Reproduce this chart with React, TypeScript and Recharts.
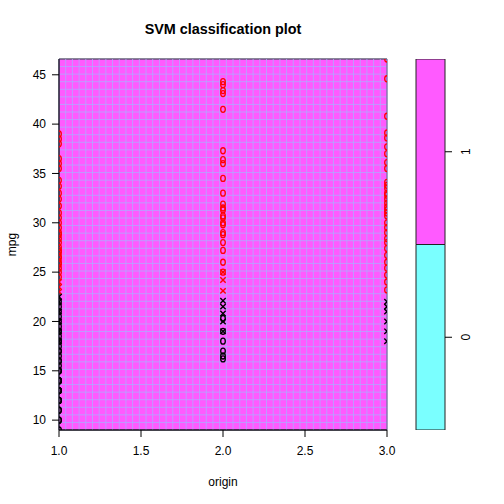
import { ScatterChart, Scatter, XAxis, YAxis, CartesianGrid, ReferenceArea, ReferenceLine, BarChart, Bar } from "recharts";

const FONT = "'Liberation Sans', Arial, Helvetica, sans-serif";
const MAGENTA = "#FF5AFF";
const CYAN = "#7AFFFF";
const GRID_LINE = "#B0A8FF";

const xTicks = [1.0, 1.5, 2.0, 2.5, 3.0];
const yTicks = [10, 15, 20, 25, 30, 35, 40, 45];
const xRange = [1, 3];
const yRange = [9, 46.6];

// origin = 1
const redO1 = [39.0, 38.5, 38.0, 36.5, 36.0, 35.5, 34.3, 33.7, 33.0, 32.4, 31.7, 31.0, 30.5, 30.0, 29.5, 29.0, 28.8, 28.4, 28.0, 27.5, 27.2, 27.0, 26.6, 26.4, 26.0, 25.8, 25.4, 25.0, 24.5];
const redX1 = [24.0, 23.5, 23.0];
const blackO1 = [9, 10, 10, 11, 11, 12, 12, 12, 13, 13, 13, 13, 14, 14, 14, 14, 15, 15, 15, 15.5, 16, 16, 16.5, 17, 17, 17.5, 18, 18, 18.5, 19, 19, 19.5, 20, 20.5, 21, 21.5, 22];
const blackX1 = [22.5, 22.0, 21.0, 20.0, 19.0, 18.0];

// origin = 2
const redO2 = [44.3, 44.0, 43.4, 43.1, 41.5, 37.3, 36.4, 36.0, 34.5, 33.0, 31.9, 31.5, 31.3, 30.7, 30.5, 30.0, 29.8, 29.0, 28.8, 28.0, 27.2, 26.0, 25.0];
const redX2 = [25.0, 24.2, 23.1];
const blackO2 = [20.3, 19.0, 18.0, 17.0, 16.5, 16.2];
const blackX2 = [22.1, 21.5, 20.8, 20.0, 19.0];

// origin = 3
const redO3 = [46.6, 44.6, 40.8, 39.1, 38.6, 37.7, 37.0, 36.1, 35.5, 34.1, 33.8, 33.5, 33.0, 32.8, 32.4, 32.0, 31.6, 31.3, 31.0, 30.7, 30.0, 29.5, 29.0, 28.4, 28.0, 27.4, 26.7, 26.0, 25.4, 24.7, 24.0, 23.2];
const blackX3 = [22.0, 21.5, 21.0, 20.0, 19.0, 18.0];

const keyLabels = ["0", "1"];
const keyData = [{ k: "key", zero: 1, one: 1 }];

// prediction grid of plot.svm (50 x 50)
const GRID_N = 50;
const gridX = Array.from({ length: GRID_N }, (_, i) => xRange[0] + ((xRange[1] - xRange[0]) * i) / (GRID_N - 1));
const gridY = Array.from({ length: GRID_N }, (_, i) => yRange[0] + ((yRange[1] - yRange[0]) * i) / (GRID_N - 1));

const pts = (origin: number, arr: number[]) => arr.map((mpg) => ({ origin, mpg }));

const redO = [...pts(1, redO1), ...pts(2, redO2), ...pts(3, redO3)];
const blackO = [...pts(1, blackO1), ...pts(2, blackO2)];
const redX = [...pts(1, redX1), ...pts(2, redX2)];
const blackX = [...pts(1, blackX1), ...pts(2, blackX2), ...pts(3, blackX3)];

const oMark = (color: string) => (p: any) => (
  <ellipse cx={p.cx} cy={p.cy} rx={2.3} ry={3.0} fill="none" stroke={color} strokeWidth={1.3} />
);

const xMark = (color: string) => (p: any) => {
  const d = 2.7;
  return (
    <path
      d={`M${p.cx - d},${p.cy - d}L${p.cx + d},${p.cy + d}M${p.cx - d},${p.cy + d}L${p.cx + d},${p.cy - d}`}
      stroke={color}
      strokeWidth={1.4}
      fill="none"
    />
  );
};

const KeyTick = (p: any) => (
  <text
    x={p.x}
    y={p.y}
    transform={`rotate(-90 ${p.x} ${p.y})`}
    textAnchor="middle"
    dominantBaseline="central"
    fontSize={12}
    fontFamily={FONT}
    fill="#000"
  >
    {keyLabels[Math.floor(p.payload.value)]}
  </text>
);

const tickStyle = { fill: "#000", fontSize: 12, fontFamily: FONT };

export default function App() {
  return (
    <div style={{ position: "absolute", left: 0, top: 0, width: 504, height: 504, background: "#fff", fontFamily: FONT }}>
      <div
        style={{
          position: "absolute",
          left: 59,
          top: 21,
          width: 328,
          textAlign: "center",
          fontWeight: "bold",
          fontSize: 14.4,
          color: "#000",
        }}
      >
        SVM classification plot
      </div>

      <div style={{ position: "absolute", left: 0, top: 0 }}>
        <ScatterChart width={400} height={504} margin={{ top: 59, right: 13, bottom: 14, left: 9 }}>
          <YAxis yAxisId="g" type="number" domain={yRange} ticks={gridY} interval={0} allowDataOverflow hide />
          <CartesianGrid
            yAxisId="g"
            vertical={false}
            fill={MAGENTA}
            fillOpacity={1}
            stroke={GRID_LINE}
            strokeOpacity={0.8}
            strokeWidth={1}
            syncWithTicks
          />
          <XAxis
            dataKey="origin"
            type="number"
            domain={xRange}
            ticks={xTicks}
            allowDataOverflow
            height={60}
            tickSize={7}
            tickMargin={9}
            tickFormatter={(v: number) => v.toFixed(1)}
            tick={tickStyle}
            tickLine={{ stroke: "#000" }}
            axisLine={{ stroke: "#000" }}
            label={{ value: "origin", position: "insideBottom", offset: 4, fill: "#000", fontSize: 12, fontFamily: FONT }}
          />
          <YAxis
            dataKey="mpg"
            type="number"
            domain={yRange}
            ticks={yTicks}
            allowDataOverflow
            width={50}
            tickSize={7}
            tickMargin={6}
            tick={tickStyle}
            tickLine={{ stroke: "#000" }}
            axisLine={{ stroke: "#000" }}
            label={{
              value: "mpg",
              angle: -90,
              position: "insideLeft",
              offset: 3,
              fill: "#000",
              fontSize: 12,
              fontFamily: FONT,
              style: { textAnchor: "middle" },
            }}
          />
          {gridX.map((v) => (
            <ReferenceLine key={v} x={v} stroke={GRID_LINE} strokeOpacity={0.8} strokeWidth={1} ifOverflow="visible" />
          ))}
          <Scatter data={redO} shape={oMark("#FF0000")} isAnimationActive={false} />
          <Scatter data={blackO} shape={oMark("#000000")} isAnimationActive={false} />
          <Scatter data={redX} shape={xMark("#FF0000")} isAnimationActive={false} />
          <Scatter data={blackX} shape={xMark("#000000")} isAnimationActive={false} />
          <ReferenceArea x1={xRange[0]} x2={xRange[1]} y1={yRange[0]} y2={yRange[1]} fill="none" stroke="#333" strokeWidth={1} />
        </ScatterChart>
      </div>

      <div style={{ position: "absolute", left: 400, top: 0 }}>
        <BarChart width={104} height={504} data={keyData} margin={{ top: 59, right: 19, bottom: 74, left: 16 }} barCategoryGap={0} barGap={0}>
          <XAxis dataKey="k" hide />
          <YAxis
            orientation="right"
            type="number"
            domain={[0, 2]}
            ticks={[0.5, 1.5]}
            allowDataOverflow
            width={40}
            tickSize={7}
            tickMargin={14}
            axisLine={false}
            tickLine={{ stroke: "#000" }}
            tick={KeyTick}
          />
          <Bar dataKey="zero" stackId="k" fill={CYAN} stroke="#222" strokeWidth={1} isAnimationActive={false} />
          <Bar dataKey="one" stackId="k" fill={MAGENTA} stroke="#222" strokeWidth={1} isAnimationActive={false} />
        </BarChart>
      </div>
    </div>
  );
}
